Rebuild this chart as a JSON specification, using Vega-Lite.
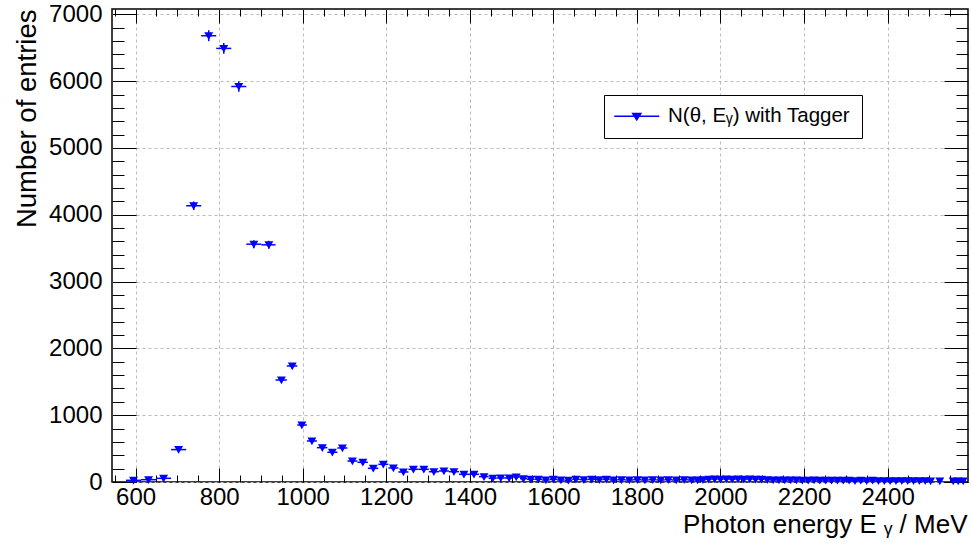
{
  "$schema": "https://vega.github.io/schema/vega-lite/v6.json",
  "width": 856,
  "height": 473,
  "autosize": {"type": "none"},
  "padding": {"left": 112, "top": 9, "right": 4, "bottom": 67},
  "background": "white",
  "config": {
    "font": "Liberation Sans",
    "view": {"stroke": "black", "strokeWidth": 1.5},
    "axis": {
      "labelFont": "Liberation Sans",
      "titleFont": "Liberation Sans",
      "labelColor": "black",
      "titleColor": "black",
      "titleFontWeight": "normal",
      "tickColor": "black",
      "tickWidth": 1,
      "domain": false,
      "labelOverlap": false,
      "labelFlush": false,
      "gridColor": "#bbbbbb",
      "gridDash": [3, 3],
      "gridWidth": 1
    }
  },
  "data": {
    "values": [
      {"x": 595, "lo": 577, "hi": 613, "y": 25, "e": 5},
      {"x": 631, "lo": 613, "hi": 649, "y": 35, "e": 6},
      {"x": 667, "lo": 649, "hi": 685, "y": 55, "e": 7},
      {"x": 703, "lo": 685, "hi": 721, "y": 485, "e": 22},
      {"x": 739, "lo": 721, "hi": 757, "y": 4135, "e": 64},
      {"x": 775, "lo": 757, "hi": 793, "y": 6680, "e": 82},
      {"x": 811, "lo": 793, "hi": 829, "y": 6490, "e": 81},
      {"x": 847, "lo": 829, "hi": 865, "y": 5920, "e": 77},
      {"x": 883, "lo": 865, "hi": 901, "y": 3560, "e": 60},
      {"x": 919, "lo": 901, "hi": 935, "y": 3550, "e": 60},
      {"x": 949, "lo": 935, "hi": 962, "y": 1527, "e": 39},
      {"x": 975, "lo": 962, "hi": 987, "y": 1737, "e": 42},
      {"x": 998, "lo": 987, "hi": 1010, "y": 853, "e": 29},
      {"x": 1022, "lo": 1010, "hi": 1034, "y": 614, "e": 25},
      {"x": 1047, "lo": 1034, "hi": 1059, "y": 514, "e": 23},
      {"x": 1071, "lo": 1059, "hi": 1083, "y": 445, "e": 21},
      {"x": 1095, "lo": 1083, "hi": 1107, "y": 509, "e": 23},
      {"x": 1119, "lo": 1107, "hi": 1131, "y": 314, "e": 18},
      {"x": 1144, "lo": 1131, "hi": 1156, "y": 295, "e": 17},
      {"x": 1169, "lo": 1156, "hi": 1181, "y": 205, "e": 14},
      {"x": 1193, "lo": 1181, "hi": 1205, "y": 265, "e": 16},
      {"x": 1217, "lo": 1205, "hi": 1229, "y": 210, "e": 14},
      {"x": 1241, "lo": 1229, "hi": 1253, "y": 150, "e": 12},
      {"x": 1265, "lo": 1253, "hi": 1277, "y": 190, "e": 14},
      {"x": 1290, "lo": 1277, "hi": 1302, "y": 190, "e": 14},
      {"x": 1314, "lo": 1302, "hi": 1326, "y": 154, "e": 12},
      {"x": 1338, "lo": 1326, "hi": 1350, "y": 165, "e": 13},
      {"x": 1362, "lo": 1350, "hi": 1374, "y": 154, "e": 12},
      {"x": 1386, "lo": 1374, "hi": 1398, "y": 115, "e": 11},
      {"x": 1410, "lo": 1398, "hi": 1422, "y": 115, "e": 11},
      {"x": 1434, "lo": 1422, "hi": 1445, "y": 80, "e": 9},
      {"x": 1455, "lo": 1445, "hi": 1464, "y": 55, "e": 7},
      {"x": 1474, "lo": 1464, "hi": 1484, "y": 60, "e": 8},
      {"x": 1494, "lo": 1484, "hi": 1502, "y": 60, "e": 8},
      {"x": 1511, "lo": 1502, "hi": 1520, "y": 75, "e": 9},
      {"x": 1528, "lo": 1520, "hi": 1537, "y": 50, "e": 7},
      {"x": 1546, "lo": 1537, "hi": 1555, "y": 40, "e": 6},
      {"x": 1564, "lo": 1555, "hi": 1573, "y": 40, "e": 6},
      {"x": 1582, "lo": 1573, "hi": 1591, "y": 30, "e": 5},
      {"x": 1600, "lo": 1591, "hi": 1609, "y": 40, "e": 6},
      {"x": 1618, "lo": 1609, "hi": 1627, "y": 30, "e": 5},
      {"x": 1636, "lo": 1627, "hi": 1645, "y": 25, "e": 5},
      {"x": 1654, "lo": 1645, "hi": 1663, "y": 40, "e": 6},
      {"x": 1673, "lo": 1663, "hi": 1682, "y": 35, "e": 6},
      {"x": 1692, "lo": 1682, "hi": 1701, "y": 40, "e": 6},
      {"x": 1710, "lo": 1701, "hi": 1718, "y": 35, "e": 6},
      {"x": 1727, "lo": 1718, "hi": 1735, "y": 40, "e": 6},
      {"x": 1744, "lo": 1735, "hi": 1753, "y": 30, "e": 5},
      {"x": 1763, "lo": 1753, "hi": 1772, "y": 35, "e": 6},
      {"x": 1782, "lo": 1772, "hi": 1791, "y": 30, "e": 5},
      {"x": 1801, "lo": 1791, "hi": 1810, "y": 35, "e": 6},
      {"x": 1819, "lo": 1810, "hi": 1828, "y": 30, "e": 5},
      {"x": 1838, "lo": 1828, "hi": 1847, "y": 35, "e": 6},
      {"x": 1857, "lo": 1847, "hi": 1866, "y": 30, "e": 5},
      {"x": 1875, "lo": 1866, "hi": 1884, "y": 35, "e": 6},
      {"x": 1894, "lo": 1884, "hi": 1903, "y": 30, "e": 5},
      {"x": 1913, "lo": 1903, "hi": 1922, "y": 35, "e": 6},
      {"x": 1931, "lo": 1922, "hi": 1938, "y": 30, "e": 5},
      {"x": 1945, "lo": 1938, "hi": 1951, "y": 30, "e": 5},
      {"x": 1958, "lo": 1951, "hi": 1965, "y": 35, "e": 6},
      {"x": 1972, "lo": 1965, "hi": 1979, "y": 40, "e": 6},
      {"x": 1986, "lo": 1979, "hi": 1993, "y": 45, "e": 7},
      {"x": 2000, "lo": 1993, "hi": 2007, "y": 40, "e": 6},
      {"x": 2014, "lo": 2007, "hi": 2021, "y": 45, "e": 7},
      {"x": 2028, "lo": 2021, "hi": 2035, "y": 40, "e": 6},
      {"x": 2042, "lo": 2035, "hi": 2049, "y": 45, "e": 7},
      {"x": 2056, "lo": 2049, "hi": 2063, "y": 40, "e": 6},
      {"x": 2070, "lo": 2063, "hi": 2077, "y": 45, "e": 7},
      {"x": 2084, "lo": 2077, "hi": 2091, "y": 40, "e": 6},
      {"x": 2098, "lo": 2091, "hi": 2105, "y": 40, "e": 6},
      {"x": 2112, "lo": 2105, "hi": 2119, "y": 35, "e": 6},
      {"x": 2126, "lo": 2119, "hi": 2133, "y": 30, "e": 5},
      {"x": 2140, "lo": 2133, "hi": 2147, "y": 30, "e": 5},
      {"x": 2154, "lo": 2147, "hi": 2161, "y": 30, "e": 5},
      {"x": 2168, "lo": 2161, "hi": 2175, "y": 30, "e": 5},
      {"x": 2182, "lo": 2175, "hi": 2189, "y": 30, "e": 5},
      {"x": 2196, "lo": 2189, "hi": 2203, "y": 25, "e": 5},
      {"x": 2210, "lo": 2203, "hi": 2217, "y": 25, "e": 5},
      {"x": 2224, "lo": 2217, "hi": 2231, "y": 30, "e": 5},
      {"x": 2238, "lo": 2231, "hi": 2245, "y": 25, "e": 5},
      {"x": 2252, "lo": 2245, "hi": 2259, "y": 25, "e": 5},
      {"x": 2266, "lo": 2259, "hi": 2273, "y": 25, "e": 5},
      {"x": 2280, "lo": 2273, "hi": 2287, "y": 25, "e": 5},
      {"x": 2294, "lo": 2287, "hi": 2301, "y": 25, "e": 5},
      {"x": 2308, "lo": 2301, "hi": 2315, "y": 25, "e": 5},
      {"x": 2322, "lo": 2315, "hi": 2329, "y": 20, "e": 4},
      {"x": 2336, "lo": 2329, "hi": 2343, "y": 25, "e": 5},
      {"x": 2350, "lo": 2343, "hi": 2357, "y": 20, "e": 4},
      {"x": 2364, "lo": 2357, "hi": 2371, "y": 25, "e": 5},
      {"x": 2378, "lo": 2371, "hi": 2385, "y": 20, "e": 4},
      {"x": 2392, "lo": 2385, "hi": 2399, "y": 20, "e": 4},
      {"x": 2406, "lo": 2399, "hi": 2413, "y": 20, "e": 4},
      {"x": 2420, "lo": 2413, "hi": 2427, "y": 20, "e": 4},
      {"x": 2434, "lo": 2427, "hi": 2441, "y": 20, "e": 4},
      {"x": 2448, "lo": 2441, "hi": 2455, "y": 20, "e": 4},
      {"x": 2462, "lo": 2455, "hi": 2469, "y": 20, "e": 4},
      {"x": 2476, "lo": 2469, "hi": 2483, "y": 20, "e": 4},
      {"x": 2490, "lo": 2483, "hi": 2497, "y": 20, "e": 4},
      {"x": 2503, "lo": 2497, "hi": 2509, "y": 15, "e": 4},
      {"x": 2525, "lo": 2519, "hi": 2531, "y": 15, "e": 4},
      {"x": 2557, "lo": 2551, "hi": 2563, "y": 15, "e": 4},
      {"x": 2569, "lo": 2563, "hi": 2575, "y": 15, "e": 4},
      {"x": 2581, "lo": 2575, "hi": 2587, "y": 15, "e": 4}
    ]
  },
  "resolve": {"axis": {"x": "independent", "y": "independent"}},
  "layer": [
    {
      "mark": {"type": "rule", "color": "blue", "strokeWidth": 1.5},
      "encoding": {
        "x": {
          "field": "lo",
          "type": "quantitative",
          "scale": {"domain": [543.5, 2592.5], "nice": false, "zero": false},
          "axis": {
            "orient": "bottom",
            "values": [550, 600, 650, 700, 750, 800, 850, 900, 950, 1000, 1050, 1100, 1150, 1200, 1250, 1300, 1350, 1400, 1450, 1500, 1550, 1600, 1650, 1700, 1750, 1800, 1850, 1900, 1950, 2000, 2050, 2100, 2150, 2200, 2250, 2300, 2350, 2400, 2450, 2500, 2550],
            "format": "d",
            "labelExpr": "datum.value % 200 === 0 ? datum.label : ''",
            "tickSize": {"condition": {"test": "datum.value % 200 === 0", "value": -14}, "value": -7},
            "grid": true,
            "gridOpacity": {"condition": {"test": "datum.value % 200 === 0", "value": 1}, "value": 0},
            "labelFontSize": 24,
            "labelPadding": 17,
            "title": "Photon energy E ᵧ / MeV",
            "titleFontSize": 26,
            "titleAnchor": "end",
            "titleAlign": "right",
            "titleBaseline": "alphabetic",
            "titleX": 855,
            "titleY": 50
          }
        },
        "x2": {"field": "hi"},
        "y": {
          "field": "y",
          "type": "quantitative",
          "scale": {"domain": [0, 7080], "nice": false, "zero": true},
          "axis": {
            "orient": "left",
            "values": [0, 200, 400, 600, 800, 1000, 1200, 1400, 1600, 1800, 2000, 2200, 2400, 2600, 2800, 3000, 3200, 3400, 3600, 3800, 4000, 4200, 4400, 4600, 4800, 5000, 5200, 5400, 5600, 5800, 6000, 6200, 6400, 6600, 6800, 7000],
            "format": "d",
            "labelExpr": "datum.value % 1000 === 0 ? datum.label : ''",
            "tickSize": {"condition": {"test": "datum.value % 1000 === 0", "value": -24}, "value": -12},
            "grid": true,
            "gridOpacity": {"condition": {"test": "datum.value % 1000 === 0", "value": 1}, "value": 0},
            "labelFontSize": 24,
            "labelPadding": 34,
            "labelBaseline": "middle",
            "title": "Number of entries",
            "titleFontSize": 27.5,
            "titleAngle": -90,
            "titleAlign": "right",
            "titleBaseline": "alphabetic",
            "titleAnchor": "end",
            "titleX": -77,
            "titleY": 0
          }
        }
      }
    },
    {
      "mark": {"type": "errorbar", "color": "blue", "thickness": 1.5},
      "encoding": {
        "x": {"field": "x", "type": "quantitative", "axis": null},
        "y": {"field": "y", "type": "quantitative", "axis": null},
        "yError": {"field": "e"}
      }
    },
    {
      "mark": {"type": "point", "shape": "triangle-down", "filled": true, "size": 40, "opacity": 1, "stroke": "blue", "strokeWidth": 1.5},
      "encoding": {
        "x": {
          "field": "x",
          "type": "quantitative",
          "axis": {
            "orient": "top",
            "values": [550, 600, 650, 700, 750, 800, 850, 900, 950, 1000, 1050, 1100, 1150, 1200, 1250, 1300, 1350, 1400, 1450, 1500, 1550, 1600, 1650, 1700, 1750, 1800, 1850, 1900, 1950, 2000, 2050, 2100, 2150, 2200, 2250, 2300, 2350, 2400, 2450, 2500, 2550],
            "labels": false,
            "grid": false,
            "title": null,
            "tickSize": {"condition": {"test": "datum.value % 200 === 0", "value": -14}, "value": -7}
          }
        },
        "y": {
          "field": "y",
          "type": "quantitative",
          "axis": {
            "orient": "right",
            "values": [0, 200, 400, 600, 800, 1000, 1200, 1400, 1600, 1800, 2000, 2200, 2400, 2600, 2800, 3000, 3200, 3400, 3600, 3800, 4000, 4200, 4400, 4600, 4800, 5000, 5200, 5400, 5600, 5800, 6000, 6200, 6400, 6600, 6800, 7000],
            "labels": false,
            "grid": false,
            "title": null,
            "tickSize": {"condition": {"test": "datum.value % 1000 === 0", "value": -24}, "value": -12}
          }
        },
        "color": {
          "datum": "N(θ, Eᵧ) with Tagger",
          "type": "nominal",
          "scale": {"range": ["blue"]},
          "legend": {
            "orient": "none",
            "legendX": 492,
            "legendY": 86,
            "title": null,
            "fillColor": "white",
            "strokeColor": "black",
            "padding": 11,
            "symbolType": "M-2.5,0H2.5M-0.45,-0.3H0.45L0,0.4Z",
            "symbolSize": 324,
            "symbolOffset": 11.5,
            "symbolStrokeWidth": 1.5,
            "symbolStrokeColor": "blue",
            "symbolFillColor": "blue",
            "labelFont": "Liberation Sans",
            "labelFontSize": 20.5,
            "labelColor": "black",
            "labelOffset": 21,
            "labelLimit": 400
          }
        }
      }
    }
  ]
}
